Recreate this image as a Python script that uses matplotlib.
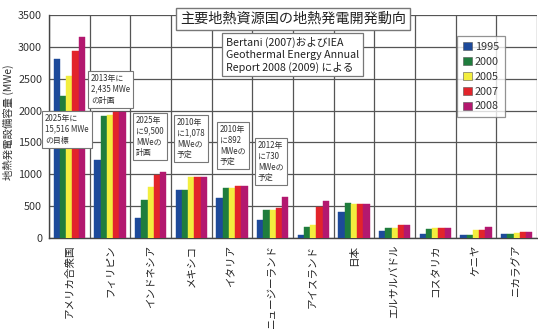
import matplotlib
matplotlib.use("Agg")
import matplotlib.pyplot as plt
from matplotlib.patches import Patch
import numpy as np

plt.rcParams['font.family'] = ['Noto Sans CJK JP', 'DejaVu Sans']

countries = ["アメリカ合衆国", "フィリピン", "インドネシア", "メキシコ", "イタリア",
             "ニュージーランド", "アイスランド", "日本", "エルサルバドル", "コスタリカ",
             "ケニヤ", "ニカラグア"]
years = ["1995", "2000", "2005", "2007", "2008"]
cap_1995 = [2817, 1227, 309, 753, 632, 286, 50, 414, 105, 55, 45, 70]
cap_2000 = [2228, 1909, 590, 755, 785, 437, 170, 547, 161, 143, 45, 70]
cap_2005 = [2544, 1931, 797, 953, 790, 435, 202, 535, 151, 163, 127, 77]
cap_2007 = [2936, 1970, 992, 953, 810, 472, 485, 535, 204, 162, 128, 87]
cap_2008 = [3150, 1975, 1042, 953, 810, 640, 575, 535, 204, 162, 167, 87]
series = [cap_1995, cap_2000, cap_2005, cap_2007, cap_2008]
colors = ["#1d4a9a", "#1f7d3d", "#f3ee3e", "#e2242b", "#b3186f"]

y_ticks = [0, 500, 1000, 1500, 2000, 2500, 3000, 3500]

notes = [
    ("2025年に\n15,516 MWe\nの目標", 45, 114),
    ("2013年に\n2,435 MWe\nの計画", 91, 74),
    ("2025年\nに9,500\nMWeの\n計画", 136, 116),
    ("2010年\nに1,078\nMWeの\n予定", 177, 118),
    ("2010年\nに892\nMWeの\n予定", 220, 125),
    ("2012年\nに730\nMWeの\n予定", 258, 141),
]

W, H = 538, 329
fig = plt.figure(figsize=(W / 100, H / 100), dpi=100)
ax = fig.add_axes([49 / W, 1 - 238 / H, 488 / W, 223 / H])

x = np.arange(len(countries))
bw = 0.155
for i, (vals, c, yr) in enumerate(zip(series, colors, years)):
    ax.bar(x + (i - 2) * bw, vals, width=bw, color=c, edgecolor=c,
           linewidth=0.3, zorder=3, label=yr)

ax.set_xlim(-0.5, len(countries) - 0.5)
ax.set_ylim(0, 3500)
ax.set_yticks(y_ticks)
ax.set_yticklabels([str(v) for v in y_ticks], fontsize=7.8, color="#333333")
ax.set_xticks(x)
ax.set_xticklabels(countries, rotation=90, fontsize=7.6, color="#222222", va="top")
ax.set_xticks(np.arange(len(countries) + 1) - 0.5, minor=True)
ax.tick_params(axis="both", which="both", length=0)
ax.tick_params(axis="x", pad=5)
ax.tick_params(axis="y", pad=5)
ax.grid(axis="y", which="major", color="#555555", linewidth=0.9, zorder=0)
ax.grid(axis="x", which="minor", color="#555555", linewidth=0.9, zorder=0)
ax.grid(axis="x", which="major", visible=False)
for s in ["top", "right"]:
    ax.spines[s].set_visible(False)
for s in ["left", "bottom"]:
    ax.spines[s].set_color("#444444")
    ax.spines[s].set_linewidth(1.0)

ax.set_ylabel("地熱発電設備容量 (MWe)", fontsize=7.5, color="#333333")
ax.yaxis.set_label_coords(-0.072, 0.52)

def px(xp, yp):
    return xp / W, 1 - yp / H

box = dict(boxstyle="square,pad=0.35", facecolor="white", edgecolor="#777777", linewidth=0.9)

fig.text(*px(293, 19), "主要地熱資源国の地熱発電開発動向", fontsize=10.2, ha="center",
         va="center", color="#222222", bbox=dict(boxstyle="square,pad=0.25",
         facecolor="white", edgecolor="#777777", linewidth=1.0), zorder=10)

fig.text(*px(226, 37), "Bertani (2007)およびIEA\nGeothermal Energy Annual\nReport 2008 (2009) による",
         fontsize=7.7, ha="left", va="top", color="#222222", linespacing=1.2,
         bbox=box, zorder=10)

for txt, xp, yp in notes:
    fig.text(*px(xp, yp), txt, fontsize=5.7, ha="left", va="top", color="#333333",
             linespacing=1.25, bbox=dict(boxstyle="square,pad=0.4", facecolor="white",
             edgecolor="#777777", linewidth=0.8), zorder=10)

handles = [Patch(facecolor=c, edgecolor="#555555", linewidth=0.4, label=yr)
           for c, yr in zip(colors, years)]
leg = fig.legend(handles=handles, loc="upper left", bbox_to_anchor=px(457, 36),
                 borderaxespad=0, fontsize=7.8, frameon=True, fancybox=False,
                 handlelength=0.8, handleheight=0.8, handletextpad=0.3,
                 labelspacing=0.45, borderpad=0.55)
leg.get_frame().set_edgecolor("#777777")
leg.get_frame().set_linewidth(0.9)
for t in leg.get_texts():
    t.set_color("#333333")

fig.savefig("out.png", dpi=100, facecolor="white")
